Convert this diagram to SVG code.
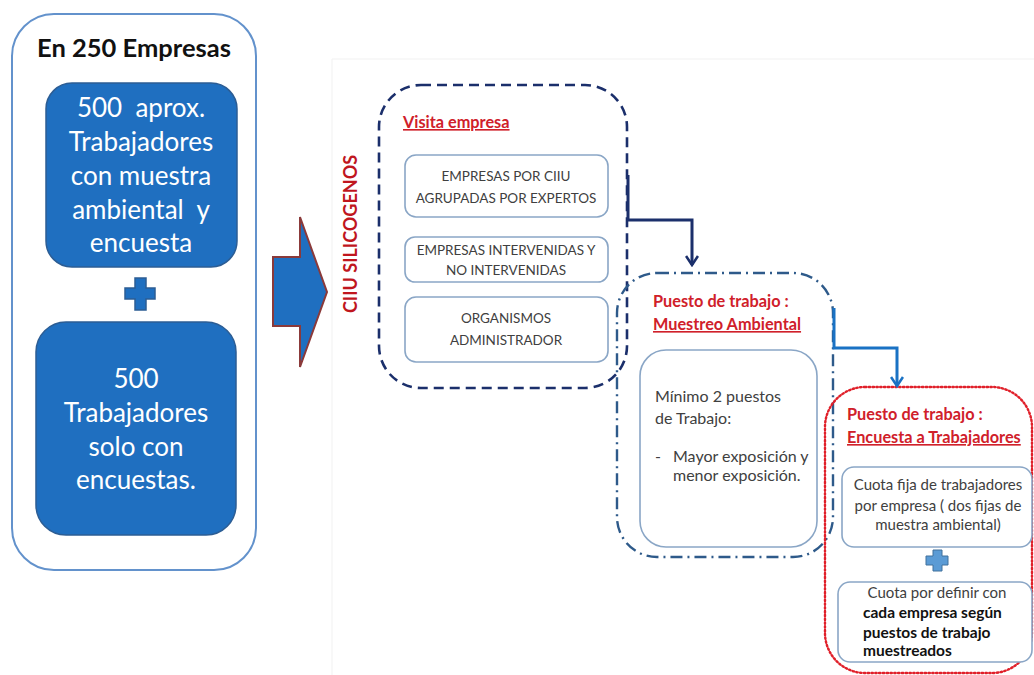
<svg xmlns="http://www.w3.org/2000/svg" width="1034" height="675" viewBox="0 0 1034 675">
  <style>
    .t { font-family: Lato, "Open Sans", "Liberation Sans", sans-serif; }
    .white { fill: #ffffff; font-size: 26px; text-anchor: middle; }
    .caps { fill: #404040; font-size: 13.5px; text-anchor: middle; }
    .body { fill: #404040; font-size: 16px; }
    .small { fill: #404040; font-size: 15px; text-anchor: middle; }
    .boldk { fill: #111111; font-size: 15.5px; font-weight: bold; }
    .red { fill: #d0202a; font-size: 16.3px; font-weight: bold; }
    .u { text-decoration: underline; }
    .inner { fill: #ffffff; stroke: #8aa6c6; stroke-width: 1.6; }
    .blue { fill: #1f6fc0; stroke: #2c5d94; stroke-width: 1.5; }
  </style>
  <defs>
    <marker id="headNavy" viewBox="0 0 14 14" refX="12" refY="7" markerWidth="14" markerHeight="14" markerUnits="userSpaceOnUse" orient="auto">
      <path d="M3 1 L12 7 L3 13" fill="none" stroke="#1b2f6b" stroke-width="2.6"/>
    </marker>
    <marker id="headBlue" viewBox="0 0 14 14" refX="12" refY="7" markerWidth="14" markerHeight="14" markerUnits="userSpaceOnUse" orient="auto">
      <path d="M3 1 L12 7 L3 13" fill="none" stroke="#1a72c4" stroke-width="2.6"/>
    </marker>
  </defs>

  <rect width="1034" height="675" fill="#ffffff"/>
  <!-- faint frame of the right-hand panel -->
  <path d="M332 675 V59 H1034" fill="none" stroke="#f1f1f1" stroke-width="1"/>

  <!-- left summary panel -->
  <g id="summary">
    <rect x="12" y="14" width="244" height="556" rx="42" fill="#ffffff" stroke="#6392cc" stroke-width="2"/>
    <text class="t" x="134" y="57" font-size="25.5" font-weight="bold" text-anchor="middle" fill="#111111">En 250 Empresas</text>
  </g>

  <g id="with-sample">
    <rect class="blue" x="46" y="83" width="191" height="184" rx="26"/>
    <text class="t white" x="141" y="117" xml:space="preserve">500  aprox.</text>
    <text class="t white" x="141" y="151">Trabajadores</text>
    <text class="t white" x="141" y="185">con muestra</text>
    <text class="t white" x="141" y="219" xml:space="preserve">ambiental  y</text>
    <text class="t white" x="141" y="252">encuesta</text>
  </g>

  <g id="plus-left">
    <path class="blue" d="M135 278 H146 V288 H155 V299 H146 V310 H135 V299 H125 V288 H135 Z"/>
  </g>

  <g id="survey-only">
    <rect class="blue" x="36" y="322" width="200" height="213" rx="30"/>
    <text class="t white" x="136" y="388">500</text>
    <text class="t white" x="136" y="422">Trabajadores</text>
    <text class="t white" x="136" y="456">solo con</text>
    <text class="t white" x="136" y="489">encuestas.</text>
  </g>

  <g id="big-arrow">
    <path d="M273 257 H300 V217 L327 292 L300 367 V326 H273 Z" fill="#1f6fc0" stroke="#8b3a3a" stroke-width="2"/>
  </g>

  <g id="ciiu-label">
    <text class="t" transform="translate(357 234) rotate(-90)" text-anchor="middle" font-size="18" font-weight="bold" fill="#c0161e">CIIU SILICOGENOS</text>
  </g>

  <!-- company visit -->
  <g id="visita">
    <rect x="379" y="85" width="248" height="303" rx="42" fill="none" stroke="#1b2f6b" stroke-width="2.6" stroke-dasharray="10 6"/>
    <text class="t red u" x="403" y="128" font-size="16.8">Visita empresa</text>
    <rect class="inner" x="405" y="155" width="203" height="62" rx="11"/>
    <text class="t caps" x="506" y="181">EMPRESAS POR  CIIU</text>
    <text class="t caps" x="506" y="203">AGRUPADAS POR EXPERTOS</text>
    <rect class="inner" x="405" y="237" width="203" height="45" rx="10"/>
    <text class="t caps" x="506" y="255">EMPRESAS INTERVENIDAS Y</text>
    <text class="t caps" x="506" y="275">NO INTERVENIDAS</text>
    <rect class="inner" x="405" y="297" width="203" height="65" rx="11"/>
    <text class="t caps" x="506" y="323">ORGANISMOS</text>
    <text class="t caps" x="506" y="345">ADMINISTRADOR</text>
  </g>

  <!-- environmental sampling -->
  <g id="muestreo">
    <rect x="617" y="273" width="216" height="284" rx="40" fill="none" stroke="#2e5a8a" stroke-width="2.4" stroke-dasharray="12 5 2 5"/>
    <text class="t red" x="653" y="307">Puesto de trabajo :</text>
    <text class="t red u" x="653" y="330">Muestreo Ambiental</text>
    <rect class="inner" x="640" y="350" width="177" height="197" rx="26"/>
    <text class="t body" x="655" y="402">Mínimo 2 puestos</text>
    <text class="t body" x="655" y="424">de Trabajo:</text>
    <text class="t body" x="655" y="462">-</text>
    <text class="t body" x="673" y="462">Mayor  exposición y</text>
    <text class="t body" x="673" y="481">menor exposición.</text>
  </g>

  <!-- worker survey -->
  <g id="encuesta">
    <rect x="825" y="387" width="207" height="286" rx="40" fill="none" stroke="#e0202a" stroke-width="2.4" stroke-dasharray="1.4 2.4" stroke-linecap="round"/>
    <text class="t red" x="847" y="420">Puesto de trabajo :</text>
    <text class="t red u" x="847" y="443">Encuesta a Trabajadores</text>
    <rect class="inner" x="842" y="467" width="190" height="80" rx="12"/>
    <text class="t small" x="938" y="490">Cuota fija de trabajadores</text>
    <text class="t small" x="938" y="511">por empresa ( dos fijas de</text>
    <text class="t small" x="938" y="530">muestra ambiental)</text>
    <path d="M933 550 H942 V556 H948 V565 H942 V571 H933 V565 H926 V556 H933 Z" fill="#5b9bd5" stroke="#41719c" stroke-width="1"/>
    <rect class="inner" x="838" y="582" width="194" height="80" rx="12"/>
    <text class="t small" x="937" y="598">Cuota por definir con</text>
    <text class="t boldk" x="863" y="618">cada empresa según</text>
    <text class="t boldk" x="863" y="638">puestos de trabajo</text>
    <text class="t boldk" x="863" y="656">muestreados</text>
  </g>

  <!-- connectors -->
  <g id="connectors" fill="none" stroke-linejoin="miter">
    <path d="M628 175 V220 H692 V265" stroke="#1b2f6b" stroke-width="3" marker-end="url(#headNavy)"/>
    <path d="M834 308 V348 H897 V386" stroke="#1a72c4" stroke-width="3" marker-end="url(#headBlue)"/>
  </g>
</svg>
